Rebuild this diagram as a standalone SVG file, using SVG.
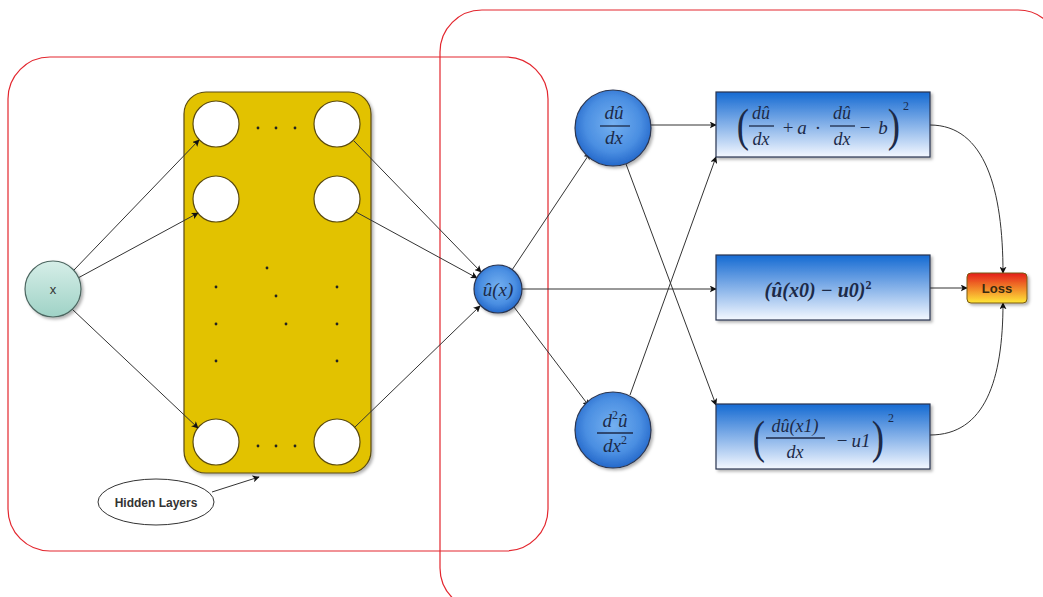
<svg xmlns="http://www.w3.org/2000/svg" width="1043" height="597" viewBox="0 0 1043 597">
  <style>
    .frame { fill: none; stroke: #e3262e; stroke-width: 1.2; }
    .edge { fill: none; stroke: #333; stroke-width: 1; marker-end: url(#arrow); }
    .neuron { fill: #fff; stroke: #5a4a10; stroke-width: 1.2; }
    .dot { fill: #222; }
    .math { font-family: "Liberation Serif", "DejaVu Serif", serif; font-style: italic; fill: #1c2a48; }
    .up { font-family: "Liberation Serif", "DejaVu Serif", serif; font-style: normal; fill: #1c2a48; }
    .bar { stroke: #1c2a48; stroke-width: 1.3; }
    .bnode { fill: url(#blueNode); stroke: #2a3550; stroke-width: 1.2; filter: url(#shadow); }
    .box { fill: url(#blueBox); stroke: #2a3550; stroke-width: 1.2; filter: url(#shadow); }
  </style>
  <defs>
    <marker id="arrow" viewBox="0 0 10 10" refX="9" refY="5" markerWidth="7" markerHeight="7" orient="auto-start-reverse" markerUnits="userSpaceOnUse">
      <path d="M0,0 L10,5 L0,10 L2.5,5 Z" fill="#111"/>
    </marker>
    <radialGradient id="blueNode" cx="0.5" cy="0.45" r="0.6">
      <stop offset="0" stop-color="#74b0f0"/>
      <stop offset="0.6" stop-color="#4b8fe2"/>
      <stop offset="1" stop-color="#1a5ec4"/>
    </radialGradient>
    <linearGradient id="blueBox" x1="0" y1="0" x2="0" y2="1">
      <stop offset="0" stop-color="#156ad2"/>
      <stop offset="1" stop-color="#f4f8ff"/>
    </linearGradient>
    <linearGradient id="tealNode" x1="0" y1="0" x2="0" y2="1">
      <stop offset="0" stop-color="#d6eee8"/>
      <stop offset="1" stop-color="#9fd2c6"/>
    </linearGradient>
    <linearGradient id="lossFill" x1="0" y1="0" x2="0" y2="1">
      <stop offset="0" stop-color="#e41e1a"/>
      <stop offset="1" stop-color="#ffe838"/>
    </linearGradient>
    <filter id="shadow" x="-20%" y="-20%" width="150%" height="150%">
      <feDropShadow dx="2" dy="2" stdDeviation="1.5" flood-color="#000" flood-opacity="0.3"/>
    </filter>
  </defs>

  <rect width="1043" height="597" fill="#fff"/>

  <!-- grouping frames -->
  <g id="frames">
    <rect class="frame" x="8" y="57" width="540" height="494" rx="42"/>
    <rect class="frame" x="440" y="10" width="620" height="600" rx="42"/>
  </g>

  <!-- hidden layer block -->
  <g id="hidden-layers">
    <rect x="184" y="92" width="187" height="381" rx="22" fill="#e2c200" stroke="#5a4a10" stroke-width="1.2" filter="url(#shadow)"/>
    <circle class="neuron" cx="216" cy="124" r="23"/>
    <circle class="neuron" cx="337" cy="124" r="23"/>
    <circle class="neuron" cx="216" cy="199" r="23"/>
    <circle class="neuron" cx="337" cy="199" r="23"/>
    <circle class="neuron" cx="216" cy="442" r="23"/>
    <circle class="neuron" cx="337" cy="442" r="23"/>
    <circle class="dot" cx="258" cy="128" r="1.4"/>
    <circle class="dot" cx="276" cy="128" r="1.4"/>
    <circle class="dot" cx="295" cy="128" r="1.4"/>
    <circle class="dot" cx="258" cy="446" r="1.4"/>
    <circle class="dot" cx="276" cy="446" r="1.4"/>
    <circle class="dot" cx="295" cy="446" r="1.4"/>
    <circle class="dot" cx="267" cy="268" r="1.4"/>
    <circle class="dot" cx="216" cy="287" r="1.4"/>
    <circle class="dot" cx="337" cy="287" r="1.4"/>
    <circle class="dot" cx="276" cy="296" r="1.4"/>
    <circle class="dot" cx="216" cy="324" r="1.4"/>
    <circle class="dot" cx="286" cy="324" r="1.4"/>
    <circle class="dot" cx="337" cy="324" r="1.4"/>
    <circle class="dot" cx="216" cy="361" r="1.4"/>
    <circle class="dot" cx="337" cy="361" r="1.4"/>
  </g>

  <!-- connectors -->
  <g id="connectors">
    <line class="edge" x1="74" y1="270" x2="199" y2="140"/>
    <line class="edge" x1="78" y1="278" x2="198" y2="213"/>
    <line class="edge" x1="72" y1="309" x2="198" y2="428"/>
    <line class="edge" x1="354" y1="141" x2="481" y2="272"/>
    <line class="edge" x1="356" y1="212" x2="477" y2="278"/>
    <line class="edge" x1="355" y1="427" x2="480" y2="306"/>
    <line class="edge" x1="512" y1="270" x2="590" y2="153"/>
    <line class="edge" x1="522" y1="289" x2="716" y2="289"/>
    <line class="edge" x1="514" y1="307" x2="589" y2="406"/>
    <line class="edge" x1="651" y1="125" x2="716" y2="125"/>
    <line class="edge" x1="626" y1="164" x2="716" y2="405"/>
    <line class="edge" x1="630" y1="395" x2="716" y2="157"/>
    <path class="edge" d="M930,125 C985,125 1003,190 1003,273"/>
    <line class="edge" x1="930" y1="288" x2="967" y2="288"/>
    <path class="edge" d="M930,435 C985,435 1003,380 1003,303"/>
    <line class="edge" x1="212" y1="492" x2="259" y2="477"/>
  </g>

  <!-- input node -->
  <g id="node-x">
    <circle cx="53" cy="289" r="28" fill="url(#tealNode)" stroke="#4c6660" stroke-width="1.2" filter="url(#shadow)"/>
    <text x="53" y="294" text-anchor="middle" font-family="Liberation Sans, Arial, sans-serif" font-size="13" fill="#333">x</text>
  </g>

  <!-- network output -->
  <g id="node-u">
    <circle class="bnode" cx="498" cy="289" r="24"/>
    <text class="math" x="498" y="296" text-anchor="middle" font-size="19">û(x)</text>
  </g>

  <!-- first derivative -->
  <g id="node-du">
    <circle class="bnode" cx="613" cy="128" r="38"/>
    <text class="math" x="614" y="119" text-anchor="middle" font-size="19">dû</text>
    <line class="bar" x1="600" y1="126" x2="630" y2="126"/>
    <text class="math" x="614" y="144" text-anchor="middle" font-size="19">dx</text>
  </g>

  <!-- second derivative -->
  <g id="node-d2u">
    <circle class="bnode" cx="613" cy="430" r="38"/>
    <text class="math" x="615" y="427" text-anchor="middle" font-size="19">d<tspan class="up" font-size="12" dy="-8">2</tspan><tspan dy="8">û</tspan></text>
    <line class="bar" x1="597" y1="433" x2="633" y2="433"/>
    <text class="math" x="615" y="452" text-anchor="middle" font-size="19">dx<tspan class="up" font-size="12" dy="-8">2</tspan></text>
  </g>

  <!-- residual term -->
  <g id="box-residual">
    <rect class="box" x="716" y="92" width="214" height="65"/>
    <text class="up" x="743" y="141" text-anchor="middle" font-size="46" transform="translate(743 127) scale(0.8 1) translate(-743 -127)">(</text>
    <text class="math" x="761" y="119" text-anchor="middle" font-size="18">dû</text>
    <line class="bar" x1="749" y1="126" x2="774" y2="126"/>
    <text class="math" x="761" y="145" text-anchor="middle" font-size="18">dx</text>
    <text class="up" x="788" y="134" text-anchor="middle" font-size="19">+</text>
    <text class="math" x="802" y="134" text-anchor="middle" font-size="19">a</text>
    <text class="up" x="818" y="134" text-anchor="middle" font-size="19">·</text>
    <text class="math" x="842" y="119" text-anchor="middle" font-size="18">dû</text>
    <line class="bar" x1="830" y1="126" x2="855" y2="126"/>
    <text class="math" x="842" y="145" text-anchor="middle" font-size="18">dx</text>
    <text class="up" x="865" y="134" text-anchor="middle" font-size="19">−</text>
    <text class="math" x="883" y="134" text-anchor="middle" font-size="19">b</text>
    <text class="up" x="894" y="141" text-anchor="middle" font-size="46" transform="translate(894 127) scale(0.8 1) translate(-894 -127)">)</text>
    <text class="up" x="906" y="110" text-anchor="middle" font-size="12">2</text>
  </g>

  <!-- initial value term -->
  <g id="box-initial">
    <rect class="box" x="716" y="255" width="214" height="65"/>
    <text class="math" x="818" y="297" text-anchor="middle" font-size="20" font-weight="bold">(û(x0) − u0)<tspan class="up" font-size="12" dy="-8">2</tspan></text>
  </g>

  <!-- boundary derivative term -->
  <g id="box-boundary">
    <rect class="box" x="716" y="404" width="214" height="65"/>
    <text class="up" x="759" y="453" text-anchor="middle" font-size="46" transform="translate(759 439) scale(0.8 1) translate(-759 -439)">(</text>
    <text class="math" x="795" y="432" text-anchor="middle" font-size="18">dû(x1)</text>
    <line class="bar" x1="766" y1="438" x2="825" y2="438"/>
    <text class="math" x="795" y="458" text-anchor="middle" font-size="18">dx</text>
    <text class="up" x="842" y="447" text-anchor="middle" font-size="19">−</text>
    <text class="math" x="861" y="447" text-anchor="middle" font-size="19">u1</text>
    <text class="up" x="878" y="453" text-anchor="middle" font-size="46" transform="translate(878 439) scale(0.8 1) translate(-878 -439)">)</text>
    <text class="up" x="891" y="422" text-anchor="middle" font-size="12">2</text>
  </g>

  <!-- loss -->
  <g id="node-loss">
    <rect x="967" y="273" width="60" height="30" rx="4" fill="url(#lossFill)" stroke="#7a5a10" stroke-width="1" filter="url(#shadow)"/>
    <text x="997" y="293" text-anchor="middle" font-family="Liberation Sans, Arial, sans-serif" font-size="13" font-weight="bold" fill="#3a2a10">Loss</text>
  </g>

  <!-- annotation -->
  <g id="label-hidden">
    <ellipse cx="156" cy="502" rx="58" ry="23" fill="#fff" stroke="#333" stroke-width="1"/>
    <text x="156" y="507" text-anchor="middle" font-family="Liberation Sans, Arial, sans-serif" font-size="12" font-weight="bold" fill="#333">Hidden Layers</text>
  </g>
</svg>
